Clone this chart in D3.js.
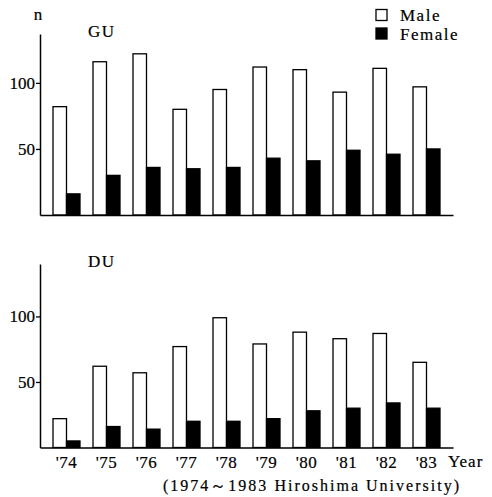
<!DOCTYPE html>
<html>
<head>
<meta charset="utf-8">
<script src="https://cdn.jsdelivr.net/npm/d3@7"></script>
<style>
  body { margin: 0; background: #fff; }
  svg text { stroke: #000; stroke-width: 0.2px; }
</style>
</head>
<body>
<div id="chart"></div>
<script>
// Chart data
var years = ["'74", "'75", "'76", "'77", "'78", "'79", "'80", "'81", "'82", "'83"];
var series = ["Male", "Female"];
var guMale = [82, 116, 122, 80, 95, 112, 110, 93, 111, 97];
var guFemale = [16, 30, 36, 35, 36, 43, 41, 49, 46, 50];
var duMale = [22, 62, 57, 77, 99, 79, 88, 83, 87, 65];
var duFemale = [5, 16, 14, 20, 20, 22, 28, 30, 34, 30];
var yTicks = [50, 100];

var svgWidth = 492;
var svgHeight = 497;
var serif = "'Liberation Serif', 'Times New Roman', Times, serif";

var svg = d3.select("#chart")
  .append("svg")
  .attr("width", svgWidth)
  .attr("height", svgHeight)
  .style("font-family", serif);

// shared x scales
var xScale = d3.scaleBand()
  .domain(years)
  .range([40, 453])
  .paddingInner(0.325)
  .paddingOuter(0.325);

var xSub = d3.scaleBand()
  .domain(series)
  .range([0, xScale.bandwidth()]);

var fills = { Male: "#fff", Female: "#000" };

function drawPanel(male, female, base, top, maxVal, title, showYears) {
  var yScale = d3.scaleLinear()
    .domain([0, maxVal])
    .range([base, top]);

  var rows = years.map(function(y, i) {
    return { year: y, Male: male[i], Female: female[i] };
  });

  var g = svg.append("g");

  // bars
  g.selectAll(".grp")
    .data(rows)
    .enter()
    .append("g")
    .attr("transform", d => `translate(${xScale(d.year)},0)`)
    .selectAll("rect")
    .data(d => series.map(s => ({ key: s, value: d[s] })))
    .enter()
    .append("rect")
    .attr("x", d => xSub(d.key))
    .attr("y", d => yScale(d.value))
    .attr("width", xSub.bandwidth())
    .attr("height", d => base - yScale(d.value))
    .attr("fill", d => fills[d.key])
    .attr("stroke", "#000")
    .attr("stroke-width", 1.3);

  // y axis
  var leftAxis = d3.axisLeft(yScale)
    .tickValues(yTicks)
    .tickSizeInner(4)
    .tickSizeOuter(0)
    .tickPadding(1);

  var ya = g.append("g")
    .attr("transform", "translate(40,0)")
    .call(leftAxis)
    .attr("font-family", serif);
  ya.select(".domain").attr("stroke-width", 1.5);
  ya.selectAll(".tick line").attr("stroke-width", 1.3);
  ya.selectAll(".tick text")
    .style("font-family", serif)
    .style("font-size", "17px");

  // x axis
  var bottomAxis = d3.axisBottom(xScale)
    .tickSize(0)
    .tickSizeOuter(0)
    .tickPadding(8);

  var xa = g.append("g")
    .attr("transform", `translate(0,${base})`)
    .call(bottomAxis)
    .attr("font-family", serif);
  xa.select(".domain").attr("stroke-width", 1.5);
  xa.selectAll(".tick text")
    .style("font-family", serif)
    .style("font-size", "17px")
    .style("letter-spacing", "0.5px")
    .attr("dy", "0.71em")
    .style("display", showYears ? null : "none");

  g.append("text")
    .attr("x", 88)
    .attr("y", top + 3)
    .style("font-family", serif)
    .style("font-size", "17px")
    .style("letter-spacing", "1.5px")
    .text(title);

  return g;
}

drawPanel(guMale, guFemale, 215, 34, 137, "GU", false);
drawPanel(duMale, duFemale, 447.5, 264, 140, "DU", true);

// y label
svg.append("text")
  .attr("x", 38)
  .attr("y", 20)
  .attr("text-anchor", "middle")
  .style("font-family", serif)
  .style("font-size", "17px")
  .text("n");

// x label
svg.append("text")
  .attr("x", 448)
  .attr("y", 467)
  .style("font-family", serif)
  .style("font-size", "17px")
  .style("letter-spacing", "1px")
  .text("Year");

// footnote
svg.append("text")
  .attr("x", 163)
  .attr("y", 491)
  .attr("textLength", 296)
  .attr("lengthAdjust", "spacing")
  .style("font-family", serif)
  .style("font-size", "16px")
  .text("(1974\uFF5E1983 Hiroshima University)");

// legend
var legend = svg.append("g");
series.forEach(function(s, i) {
  legend.append("rect")
    .attr("x", 376)
    .attr("y", 9.5 + i * 18.5)
    .attr("width", 11)
    .attr("height", 11)
    .attr("fill", fills[s])
    .attr("stroke", "#000")
    .attr("stroke-width", 1.3);
  legend.append("text")
    .attr("x", 400)
    .attr("y", 21 + i * 19)
    .style("font-family", serif)
    .style("font-size", "17px")
    .style("letter-spacing", "1.5px")
    .text(s);
});
</script>
</body>
</html>
